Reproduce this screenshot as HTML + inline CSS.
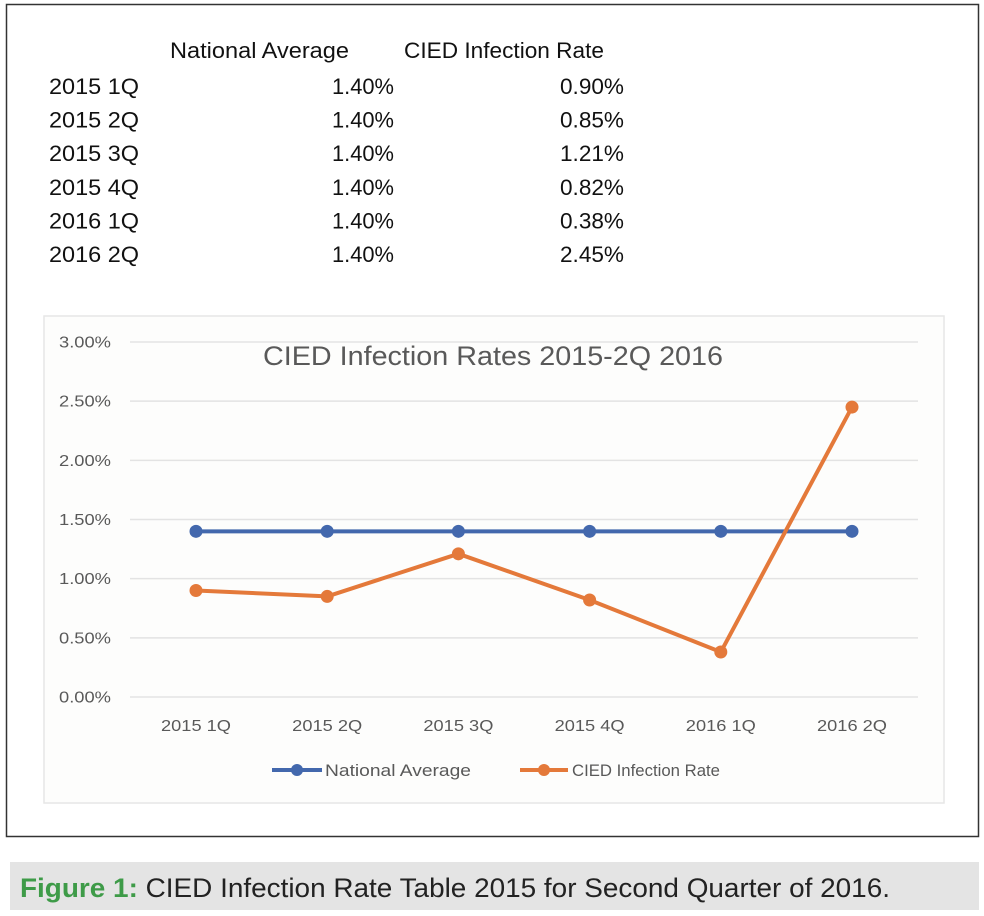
<!DOCTYPE html>
<html><head><meta charset="utf-8"><style>
html,body{margin:0;padding:0;background:#fff;width:984px;height:916px;overflow:hidden}
svg{display:block}
text{font-family:"Liberation Sans",sans-serif}
</style></head><body>
<svg id="fig" width="984" height="916" viewBox="0 0 984 916">
<rect x="6.5" y="4.5" width="972" height="832" fill="#fff" stroke="#333" stroke-width="1.5"/>
<g id="tbl"></g>
<rect x="44" y="316" width="900" height="487" fill="#fdfdfc" stroke="#e6e6e6" stroke-width="1.5"/>
<text x="493" y="365" text-anchor="middle" font-size="27" fill="#595959" textLength="460" lengthAdjust="spacingAndGlyphs">CIED Infection Rates 2015-2Q 2016</text>
<g id="grid"></g><g id="series"></g>
<g>
<line x1="272" y1="770" x2="322" y2="770" stroke="#4368ad" stroke-width="4"/>
<circle cx="297" cy="770" r="6" fill="#4368ad"/>
<text x="325" y="776" font-size="17" fill="#595959" textLength="146" lengthAdjust="spacingAndGlyphs">National Average</text>
<line x1="520" y1="770" x2="568" y2="770" stroke="#e4793a" stroke-width="4"/>
<circle cx="544" cy="770" r="6" fill="#e4793a"/>
<text x="572" y="776" font-size="17" fill="#595959" textLength="148" lengthAdjust="spacingAndGlyphs">CIED Infection Rate</text>
</g>
<rect x="10" y="862" width="969" height="48" fill="#e4e4e4"/>
<text x="20" y="897" font-size="27" textLength="870" lengthAdjust="spacingAndGlyphs"><tspan fill="#3e9b48" font-weight="bold">Figure 1:</tspan><tspan fill="#222"> CIED Infection Rate Table 2015 for Second Quarter of 2016.</tspan></text>
</svg>
<script>
const categories=["2015 1Q","2015 2Q","2015 3Q","2015 4Q","2016 1Q","2016 2Q"];
const nationalAvg=[1.40,1.40,1.40,1.40,1.40,1.40];
const ciedRate=[0.90,0.85,1.21,0.82,0.38,2.45];
const yTicks=[0,0.5,1,1.5,2,2.5,3];
const yTickLabels=["0.00%","0.50%","1.00%","1.50%","2.00%","2.50%","3.00%"];
const NS="http://www.w3.org/2000/svg";
function mk(t,a,p,txt){const e=document.createElementNS(NS,t);for(const k in a)e.setAttribute(k,a[k]);if(txt!=null)e.textContent=txt;p.appendChild(e);return e;}
const xS=i=>196+i*131.2;
const yS=v=>697-v*(355/3);
const grid=document.getElementById('grid');
yTicks.forEach((v,i)=>{
 const l=mk('line',{x1:130,x2:918,y1:yS(v),y2:yS(v),stroke:'#e3e3e3','stroke-width':1.5},grid);
 
 
 const t=mk('text',{x:111,y:yS(v)+5.5,'text-anchor':'end','font-size':16,fill:'#595959',textLength:52,lengthAdjust:'spacingAndGlyphs'},grid,yTickLabels[i]);
 
 
});
categories.forEach((c,i)=>{
 const t=mk('text',{x:xS(i),y:731,'text-anchor':'middle','font-size':16,fill:'#595959',textLength:70,lengthAdjust:'spacingAndGlyphs'},grid,c);
 
 
});
const ser=document.getElementById('series');
function drawSeries(vals,color,name){
 const pl=mk('polyline',{points:vals.map((v,i)=>xS(i)+','+yS(v)).join(' '),fill:'none',stroke:color,'stroke-width':4,'stroke-linejoin':'round'},ser);
 
 
 vals.forEach((v,i)=>{
  const c=mk('circle',{cx:xS(i),cy:yS(v),r:6.5,fill:color},ser);
  
  
 });
}
drawSeries(nationalAvg,'#4368ad','national-average');
drawSeries(ciedRate,'#e4793a','cied-rate');
const tbl=document.getElementById('tbl');
let h=mk('text',{x:170,y:58,'font-size':22,fill:'#111',textLength:179,lengthAdjust:'spacingAndGlyphs'},tbl,'National Average');


h=mk('text',{x:404,y:58,'font-size':22,fill:'#111',textLength:200,lengthAdjust:'spacingAndGlyphs'},tbl,'CIED Infection Rate');


const fmt=v=>v.toFixed(2)+'%';
categories.forEach((c,i)=>{
 const y=94+i*33.6;
 let t=mk('text',{x:49,y:y,'font-size':22,fill:'#111',textLength:90,lengthAdjust:'spacingAndGlyphs'},tbl,c);
 
 
 t=mk('text',{x:394,y:y,'text-anchor':'end','font-size':22,fill:'#111',textLength:62,lengthAdjust:'spacingAndGlyphs'},tbl,fmt(nationalAvg[i]));
 
 
 t=mk('text',{x:624,y:y,'text-anchor':'end','font-size':22,fill:'#111',textLength:64,lengthAdjust:'spacingAndGlyphs'},tbl,fmt(ciedRate[i]));
 
 
});
</script>
</body></html>
